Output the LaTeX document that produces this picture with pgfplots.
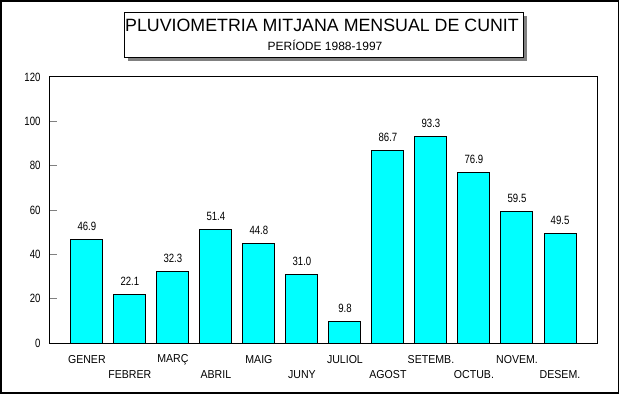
\documentclass[border=0pt]{standalone}
\usepackage{fontspec}
\setmainfont{Liberation Sans}
\newfontfamily\numfont[FakeStretch=0.8]{Liberation Sans}
\newfontfamily\labfont[FakeStretch=0.92]{Liberation Sans}
\usepackage{pgfplots}
\pgfplotsset{compat=1.18}
\begin{document}
\begin{tikzpicture}[x=1pt,y=1pt]
\useasboundingbox (0,0) rectangle (621,394);
\draw[line width=1.6pt] (0.8,0.8) rectangle (618.6,393.2);
% title box
\fill[gray] (128,333) rectangle (527,378);
\draw[fill=white,line width=1pt] (124,336) rectangle (523,381);
\node[font=\fontsize{17.8}{21}\selectfont,anchor=center] at (322,369) {PLUVIOMETRIA MITJANA MENSUAL DE CUNIT};
\node[font=\fontsize{12}{14}\selectfont,anchor=center] at (325,348.5) {PERÍODE 1988-1997};
\begin{axis}[
  at={(49pt,51pt)}, anchor=south west,
  scale only axis, width=548pt, height=266pt,
  xmin=-0.88, xmax=11.86, ymin=0, ymax=120,
  axis line style={line width=1pt},
  ytick={0,20,...,120},
  ytick pos=left, tick align=inside,
  major tick length=8pt,
  ytick style={line width=1pt},
  xtick={0,2,4,6,8,10},
  xticklabels={GENER,MARÇ,MAIG,JULIOL,SETEMB.,NOVEM.},
  extra x ticks={1,3,5,7,9,11},
  extra x tick labels={FEBRER,ABRIL,JUNY,AGOST,OCTUB.,DESEM.},
  extra x tick style={xticklabel style={yshift=-15pt}},
  xtick style={draw=none},
  xticklabel style={font=\labfont\fontsize{11.5}{13}\selectfont, anchor=center, yshift=-9pt},
  yticklabel style={font=\numfont\fontsize{12}{14}\selectfont, anchor=east, xshift=-5pt},
  /pgf/number format/assume math mode=true,
  yticklabel={\pgfmathprintnumber{\tick}},
  ybar, bar width=32pt,
  nodes near coords={\pgfmathprintnumber[fixed,fixed zerofill,precision=1,assume math mode=true]{\pgfplotspointmeta}},
  every node near coord/.append style={font=\numfont\fontsize{12}{14}\selectfont, anchor=center, yshift=13pt},
  clip=false,
]
\addplot[fill={rgb,255:red,0;green,255;blue,255}, draw=black, line width=1pt] coordinates {
(0,46.9) (1,22.1) (2,32.3) (3,51.4) (4,44.8) (5,31.0) (6,9.8) (7,86.7) (8,93.3) (9,76.9) (10,59.5) (11,49.5)
};
\end{axis}
\end{tikzpicture}
\end{document}
